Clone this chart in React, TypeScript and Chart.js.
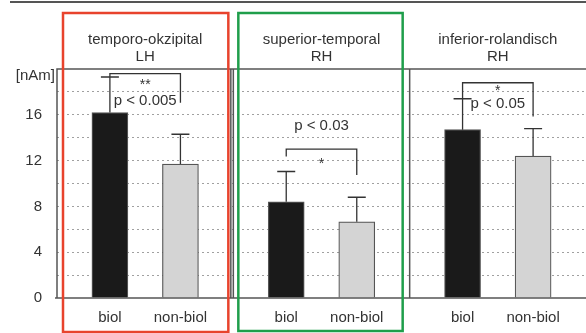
import { useEffect, useRef } from 'react';
import { Chart, registerables } from 'chart.js';

Chart.register(...registerables);

// ---- data ----
const regions = ['temporo-okzipital', 'superior-temporal', 'inferior-rolandisch'];
const hemispheres = ['LH', 'RH', 'RH'];
const conditions = ['biol', 'non-biol'];
const meanValues = [16.2, 11.7, 8.4, 6.65, 14.7, 12.4];
const errorValues = [3.1, 2.6, 2.65, 2.15, 2.7, 2.4];
const unitLabel = '[nAm]';
const yMax = 20;
const yGridStep = 2;
const yLabelStep = 4;
const sigStars = ['**', '*', '*'];
const pLabels = ['p < 0.005', 'p < 0.03', 'p < 0.05'];
const bracketTop = [19.6, 13.0, 18.8];
const bracketLeftEnd = [19.3, 12.35, 17.4];
const bracketRightEnd = [17.05, 10.75, 15.85];
const pLabelLevel = [17.2, 15.05, 16.95];
const starLevel = [18.6, 11.7, 18.05];

const slotsPerPanel = 5;
const barSlots = [1, 3];

const labels: string[] = [];
const values: (number | null)[] = [];
const colors: string[] = [];
regions.forEach((_, p) => {
  for (let s = 0; s < slotsPerPanel; s++) {
    const ci = barSlots.indexOf(s);
    if (ci >= 0) {
      labels.push(conditions[ci]);
      values.push(meanValues[p * 2 + ci]);
      colors.push(ci === 0 ? '#1a1a1a' : '#d4d4d4');
    } else {
      labels.push('');
      values.push(null);
      colors.push('transparent');
    }
  }
});

const FONT = '"Liberation Sans", Arial, sans-serif';
const TEXT = '#333333';

const decorPlugin = {
  id: 'decor',
  afterDatasetsDraw(chart: any) {
    const ctx = chart.ctx;
    const y = chart.scales.y;
    const meta = chart.getDatasetMeta(0);
    ctx.save();
    ctx.strokeStyle = '#333333';
    ctx.lineWidth = 1.3;
    let k = 0;
    values.forEach((v, i) => {
      if (v == null) return;
      const el = meta.data[i];
      const top = y.getPixelForValue(v + errorValues[k]);
      ctx.beginPath();
      ctx.moveTo(el.x, y.getPixelForValue(v));
      ctx.lineTo(el.x, top);
      ctx.moveTo(el.x - 9, top);
      ctx.lineTo(el.x + 9, top);
      ctx.stroke();
      k++;
    });
    ctx.restore();
  },
  afterDraw(chart: any) {
    const ctx = chart.ctx;
    const { left, right, top, bottom } = chart.chartArea;
    const y = chart.scales.y;
    const meta = chart.getDatasetMeta(0);
    const pw = (right - left) / regions.length;
    ctx.save();

    // frame
    ctx.strokeStyle = '#555555';
    ctx.lineWidth = 1.5;
    ctx.beginPath();
    ctx.moveTo(left, bottom);
    ctx.lineTo(left, top);
    ctx.lineTo(right, top);
    ctx.moveTo(left - 2, bottom);
    ctx.lineTo(right, bottom);
    for (let p = 1; p < regions.length; p++) {
      const x = left + pw * p;
      ctx.moveTo(x, top);
      ctx.lineTo(x, bottom);
      if (p === 1) {
        ctx.moveTo(x - 2.5, top);
        ctx.lineTo(x - 2.5, bottom);
      }
    }
    ctx.stroke();

    // top rule
    ctx.strokeStyle = '#555555';
    ctx.lineWidth = 2;
    ctx.beginPath();
    ctx.moveTo(10, 2);
    ctx.lineTo(chart.width, 2);
    ctx.stroke();

    // unit label
    ctx.fillStyle = TEXT;
    ctx.font = `15px ${FONT}`;
    ctx.textAlign = 'right';
    ctx.textBaseline = 'middle';
    ctx.fillText(unitLabel, left - 2, y.getPixelForValue(yMax) + 7);

    // titles
    ctx.textAlign = 'center';
    regions.forEach((r, p) => {
      const cx = left + pw * (p + 0.5);
      ctx.fillText(r, cx, 40);
      ctx.fillText(hemispheres[p], cx, 57);
    });

    // brackets and significance labels
    ctx.strokeStyle = '#333333';
    ctx.lineWidth = 1.3;
    regions.forEach((_, p) => {
      const i1 = p * slotsPerPanel + barSlots[0];
      const i2 = p * slotsPerPanel + barSlots[1];
      const x1 = meta.data[i1].x;
      const x2 = meta.data[i2].x;
      const yt = y.getPixelForValue(bracketTop[p]);
      ctx.beginPath();
      ctx.moveTo(x1, y.getPixelForValue(bracketLeftEnd[p]));
      ctx.lineTo(x1, yt);
      ctx.lineTo(x2, yt);
      ctx.lineTo(x2, y.getPixelForValue(bracketRightEnd[p]));
      ctx.stroke();
      const cx = left + pw * (p + 0.5);
      ctx.font = `15px ${FONT}`;
      ctx.fillText(pLabels[p], cx, y.getPixelForValue(pLabelLevel[p]));
      ctx.font = `14px ${FONT}`;
      ctx.fillText(sigStars[p], cx, y.getPixelForValue(starLevel[p]));
    });

    // highlight boxes
    ctx.lineWidth = 2.5;
    ctx.strokeStyle = '#e8432d';
    ctx.strokeRect(left + 6, 13, pw - 11, chart.height - 14);
    ctx.strokeStyle = '#1f9e4b';
    ctx.strokeRect(left + pw + 5, 13, pw - 12, chart.height - 15);

    ctx.restore();
  },
};

export default function App() {
  const ref = useRef<HTMLCanvasElement>(null);
  useEffect(() => {
    document.body.style.margin = '0';
    document.body.style.background = '#ffffff';
    const chart = new Chart(ref.current!, {
      type: 'bar',
      data: {
        labels,
        datasets: [
          {
            data: values,
            backgroundColor: colors,
            borderColor: '#555555',
            borderWidth: 1.2,
            barPercentage: 1,
            categoryPercentage: 1,
            barThickness: 36,
          },
        ],
      },
      options: {
        responsive: false,
        animation: false,
        layout: { padding: { top: 69, left: 0, right: 0, bottom: 0 } },
        plugins: { legend: { display: false }, tooltip: { enabled: false } },
        scales: {
          x: {
            grid: { display: false },
            border: { display: false },
            ticks: {
              color: TEXT,
              font: { size: 15, family: FONT },
              padding: 3,
              autoSkip: false,
              maxRotation: 0,
            },
            afterFit: (s: any) => {
              s.height = 35;
            },
          },
          y: {
            min: 0,
            max: yMax,
            border: { display: false, dash: [2, 3] },
            grid: {
              drawTicks: false,
              color: (c: any) =>
                c.tick && (c.tick.value === 0 || c.tick.value === yMax) ? 'transparent' : '#a0a0a0',
              lineWidth: 1,
            },
            ticks: {
              stepSize: yGridStep,
              padding: 15,
              color: TEXT,
              font: { size: 15, family: FONT },
              callback: (v: any) => (v % yLabelStep === 0 && v < yMax ? String(v) : ''),
            },
            afterFit: (s: any) => {
              s.width = 57;
            },
          },
        },
      },
      plugins: [decorPlugin],
    });
    return () => chart.destroy();
  }, []);
  return <canvas ref={ref} width={586} height={333} style={{ display: 'block' }} />;
}
